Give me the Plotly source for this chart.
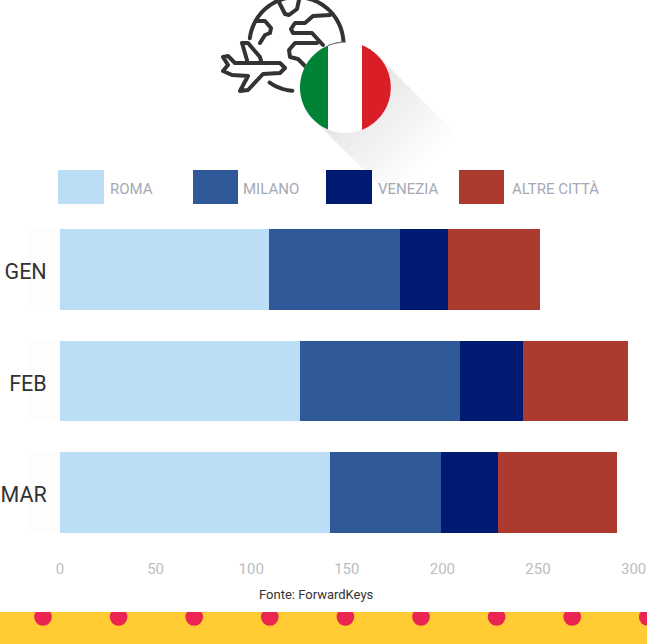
import math
import plotly.graph_objects as go

W, H = 647, 644

months = ["GEN", "FEB", "MAR"]
series_names = ["ROMA", "MILANO", "VENEZIA", "ALTRE CITTÀ"]
roma = [109.3, 125.5, 141]
milano = [68.5, 83.7, 58.5]
venezia = [25, 33, 29.8]
altre = [48, 55, 62.2]
colors = ["#bbdef6", "#30599a", "#001a72", "#ad3a2f"]
xticks = [0, 50, 100, 150, 200, 250, 300]
series_values = [roma, milano, venezia, altre]

FONT = "Roboto"


def px(x):
    return x / W


def py(y):
    return 1 - y / H


def poly(pts, close=True):
    s = "M" + " L".join(f"{px(x):.5f},{py(y):.5f}" for x, y in pts)
    return s + (" Z" if close else "")


def rect(x0, y0, x1, y1, color, layer="above"):
    return dict(type="rect", xref="paper", yref="paper", x0=px(x0), x1=px(x1), y0=py(y0), y1=py(y1),
                fillcolor=color, line=dict(width=0), layer=layer)


def arc(cx, cy, r, a0, a1, n=48):
    return [(cx + r * math.cos(math.radians(a0 + (a1 - a0) * i / n)),
             cy + r * math.sin(math.radians(a0 + (a1 - a0) * i / n))) for i in range(n + 1)]


def stroke(pts, w=4, c="#333333"):
    return dict(type="path", xref="paper", yref="paper", path=poly(pts, close=False),
                line=dict(color=c, width=w), layer="above")


fig = go.Figure()
for name, vals, col in zip(series_names, series_values, colors):
    fig.add_bar(y=months, x=vals, name=name, orientation="h", marker=dict(color=col, line=dict(width=0)))

shapes = []
# long shadow of the flag: stacked translucent quads so it fades with distance
FX, FY, FR = 345.4, 87.5, 45.4
k = FR * 0.7071
P1 = (FX + k, FY - k)
P2 = (FX - k, FY + k)
for i in range(14):
    d = (6 + i * 8) * 0.7071
    quad = [P1, (P1[0] + d, P1[1] + d), (P2[0] + d, P2[1] + d), P2]
    shapes.append(dict(type="path", xref="paper", yref="paper", path=poly(quad),
                       fillcolor="rgba(0,0,0,0.008)", line=dict(width=0), layer="below"))
# faint band behind month labels
for y0 in (229, 340, 452):
    shapes.append(rect(27, y0, 60, y0 + 81, "#fdfdfd", "below"))
# legend swatches
for (x0, x1), col in zip([(58, 104), (193, 238), (326, 372), (459, 504)], colors):
    shapes.append(rect(x0, 170, x1, 204, col))
# footer
shapes.append(rect(0, 612, W, H, "#ffcc33"))
for i in range(9):
    cx = 43 + 75.6 * i
    shapes.append(dict(type="circle", xref="paper", yref="paper", x0=px(cx - 8.85), x1=px(cx + 8.85),
                       y0=py(617 + 8.85), y1=py(617 - 8.85), fillcolor="#ea2551", line=dict(width=0), layer="above"))
shapes.append(rect(0, 604, W, 612, "#ffffff"))

# globe
GX, GY, GR = 296.5, 44, 47
shapes.append(stroke(arc(GX, GY, GR, 187, 358)))
shapes.append(stroke(arc(GX, GY, GR, 125, 95, 12)))
# continents
shapes.append(stroke([(278, 0), (285, 14), (289, 15), (297, 9), (299, 0)]))
shapes.append(stroke([(330, 15), (313, 16), (305, 23), (295, 23), (291, 29), (293, 33), (312, 33), (323, 45)]))
shapes.append(stroke([(256, 21), (265, 21), (271, 28), (270, 33), (265, 35), (260, 43)]))
shapes.append(stroke([(317, 43), (295, 43), (289, 50), (290, 57), (298, 59), (306, 67)]))
shapes.append(stroke([(247, 60), (242, 43), (248, 43), (260, 57), (261, 61)]))
# plane
shapes.append(stroke([(223, 57), (228, 56), (235, 63), (280, 63), (285, 68), (280, 73), (263, 74), (248, 90), (240, 91),
                      (248, 76), (232, 75), (223, 71), (228, 65), (223, 57)]))

# flag
shapes.append(dict(type="circle", xref="paper", yref="paper", x0=px(FX - FR), x1=px(FX + FR), y0=py(FY + FR), y1=py(FY - FR),
                   fillcolor="#ffffff", line=dict(width=0), layer="above"))
ga = math.degrees(math.acos((FX - 328) / FR))
shapes.append(dict(type="path", xref="paper", yref="paper", path=poly(arc(FX, FY, FR, 180 - ga, 180 + ga)),
                   fillcolor="#008337", line=dict(width=0), layer="above"))
ra = math.degrees(math.acos((362 - FX) / FR))
shapes.append(dict(type="path", xref="paper", yref="paper", path=poly(arc(FX, FY, FR, -ra, ra)),
                   fillcolor="#d91e28", line=dict(width=0), layer="above"))
shapes.append(stroke(arc(FX, FY, FR, -112, -90, 10), w=1.2, c="#777777"))

annotations = []
for x, name in zip([108, 241, 376, 510], series_names):
    annotations.append(dict(text=name, xref="paper", yref="paper", x=px(x), y=py(189), xanchor="left", yanchor="middle",
                            showarrow=False, font=dict(family=FONT, size=15, color="#a4a9b6")))
annotations.append(dict(text="Fonte: ForwardKeys", xref="paper", yref="paper", x=px(316), y=py(594), xanchor="center",
                        yanchor="middle", showarrow=False, font=dict(family=FONT, size=13, color="#333333")))

fig.update_layout(
    width=W, height=H, margin=dict(l=0, r=0, t=0, b=0, autoexpand=False), paper_bgcolor="#ffffff", plot_bgcolor="rgba(0,0,0,0)",
    barmode="stack", bargap=0.274, showlegend=False, shapes=shapes, annotations=annotations,
    font=dict(family=FONT),
)
fig.update_xaxes(domain=[px(60), px(633.6)], range=[0, 300], tickvals=xticks, showgrid=False, zeroline=False, showline=False,
                 ticks="outside", ticklen=7, tickcolor="rgba(0,0,0,0)", tickfont=dict(family=FONT, size=15, color="#bdbdbd"))
fig.update_yaxes(domain=[py(548.25), py(213.75)], categoryorder="array", categoryarray=months[::-1], showgrid=False,
                 zeroline=False, showline=False, ticks="outside", ticklen=8, tickcolor="rgba(0,0,0,0)",
                 ticklabelshift=2, tickfont=dict(family=FONT, size=21.5, color="#333333"))

fig.write_html("out.html", config=dict(displayModeBar=False),
               post_script="document.body.style.margin='0';document.body.style.overflow='hidden';"
                           "document.querySelectorAll('.shapelayer path').forEach(function(p){"
                           "p.style.strokeLinejoin='round';p.style.strokeLinecap='round';});")
